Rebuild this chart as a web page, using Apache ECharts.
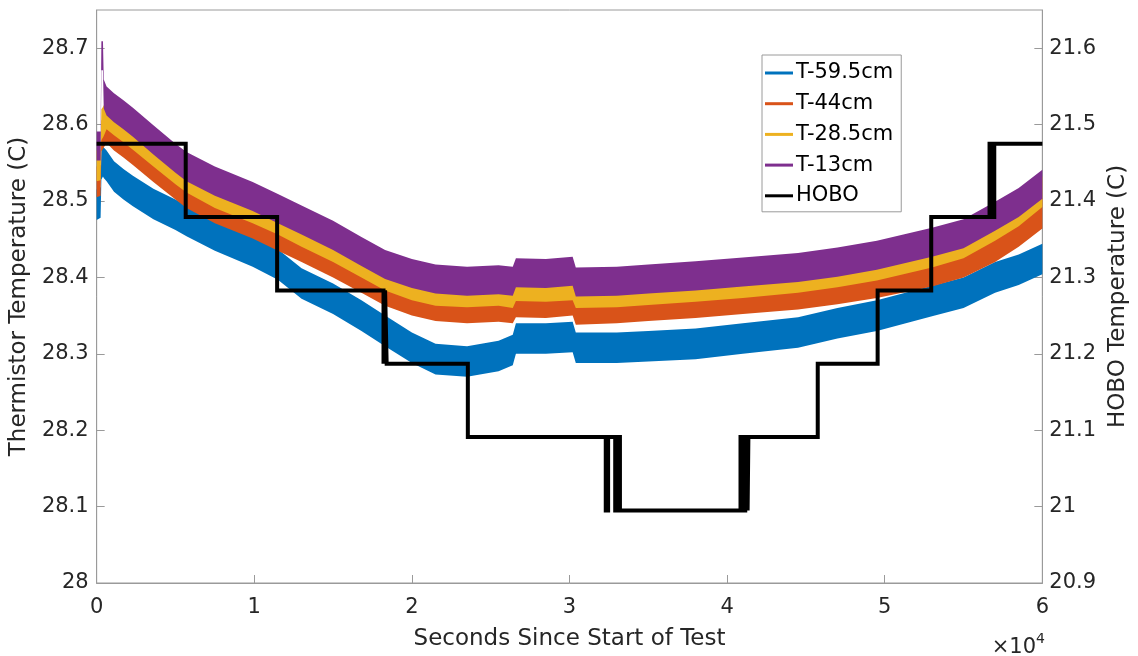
<!DOCTYPE html>
<html>
<head>
<meta charset="utf-8">
<script src="https://cdn.jsdelivr.net/npm/echarts@6/dist/echarts.min.js"></script>
<style>
  html, body { margin: 0; padding: 0; background: #fff; }
  #chart { width: 1138px; height: 656px; }
</style>
</head>
<body>
<div id="chart"></div>
<script>
// Sample times (s) for the thermistor traces
const times = [0, 250, 300, 400, 450, 630, 1100, 1700, 2300, 3600, 5000, 5700, 7500, 9900,
  11500, 13000, 15000, 16800, 18300, 20000, 21500, 23500, 25500, 26400, 26600, 28500,
  30200, 30400, 33000, 35000, 38000, 41000, 44500, 47000, 49500, 53000, 55000, 57000,
  58500, 60000];

// Thermistor band centres (C)
const t595 = [28.495, 28.498, 28.548, 28.552, 28.550, 28.546, 28.532, 28.522, 28.513, 28.496,
  28.482, 28.474, 28.455, 28.434, 28.417, 28.392, 28.372, 28.350, 28.330, 28.308, 28.293,
  28.290, 28.297, 28.305, 28.320, 28.320, 28.322, 28.308, 28.308, 28.310, 28.313, 28.320,
  28.328, 28.340, 28.350, 28.369, 28.380, 28.400, 28.410, 28.424];
const t44 = [28.525, 28.527, 28.585, 28.588, 28.590, 28.596, 28.586, 28.577, 28.567, 28.545,
  28.522, 28.511, 28.491, 28.471, 28.455, 28.440, 28.420, 28.400, 28.383, 28.370, 28.363,
  28.360, 28.362, 28.360, 28.368, 28.367, 28.370, 28.358, 28.360, 28.363, 28.367, 28.372,
  28.378, 28.385, 28.393, 28.408, 28.420, 28.440, 28.460, 28.484];
const t285 = [28.546, 28.547, 28.600, 28.603, 28.605, 28.614, 28.606, 28.597, 28.587, 28.565,
  28.542, 28.531, 28.511, 28.491, 28.476, 28.460, 28.440, 28.420, 28.403, 28.390, 28.383,
  28.381, 28.383, 28.380, 28.389, 28.388, 28.390, 28.380, 28.381, 28.384, 28.388, 28.393,
  28.400, 28.407, 28.416, 28.433, 28.445, 28.468, 28.487, 28.512];
const t13 = [28.572, 28.572, 28.690, 28.690, 28.640, 28.631, 28.622, 28.613, 28.603, 28.580,
  28.556, 28.545, 28.526, 28.506, 28.490, 28.475, 28.455, 28.434, 28.417, 28.405, 28.398,
  28.395, 28.397, 28.395, 28.406, 28.405, 28.408, 28.394, 28.395, 28.398, 28.402, 28.407,
  28.413, 28.420, 28.429, 28.446, 28.457, 28.480, 28.498, 28.522];

// Noise half-width of each thermistor trace (C)
const halfWidth = { 'T-59.5cm': 0.020, 'T-44cm': 0.020, 'T-28.5cm': 0.020, 'T-13cm': 0.019 };

// HOBO logger: time (s) at which each reading starts, and the reading (C)
const hoboTime = [0, 5650, 11450, 18200, 18300, 18400, 23550, 32300, 32450, 32900, 33050, 33200,
  40850, 41000, 41150, 41300, 41350, 45750, 49550, 52950, 56650, 56800, 56950, 60000];
const hoboVal = [21.475, 21.379, 21.283, 21.187, 21.283, 21.187, 21.091, 20.995, 21.091, 20.995,
  21.091, 20.995, 21.091, 20.995, 21.091, 20.995, 21.091, 21.187, 21.283, 21.379, 21.475,
  21.379, 21.475, 21.475];

const xTicks = ['0', '1', '2', '3', '4', '5', '6'];

const FONT = 'DejaVu Sans';
const TXT = '#262626';
const AX = '#9a9a9a';

function band(name, color, mid) {
  const hw = halfWidth[name];
  return {
    type: 'custom',
    name: name,
    yAxisIndex: 0,
    color: color,
    itemStyle: { color: color },
    clip: true,
    data: times.map((t, i) => [t, mid[i] - hw, mid[i] + hw]),
    encode: { x: 0, y: [1, 2] },
    renderItem: function (params, api) {
      if (params.dataIndex !== 0) return { type: 'group', children: [] };
      const top = [], bottom = [];
      for (let i = 0; i < times.length; i++) {
        top.push(api.coord([times[i], mid[i] + hw]));
        bottom.push(api.coord([times[i], mid[i] - hw]));
      }
      return {
        type: 'polygon',
        shape: { points: top.concat(bottom.reverse()) },
        style: { fill: color }
      };
    }
  };
}

const chart = echarts.init(document.getElementById('chart'), null, { renderer: 'canvas' });

const yLabel = v => String(Math.round(v * 10) / 10);

chart.setOption({
  animation: false,
  backgroundColor: '#fff',
  textStyle: { fontFamily: FONT },
  grid: { left: 93, right: 92, top: 10, bottom: 72, show: true, borderColor: AX, borderWidth: 1 },
  legend: {
    orient: 'vertical',
    left: 762, top: 55,
    padding: [7, 8, 5, 3],
    itemWidth: 28, itemHeight: 3, itemGap: 8.7,
    backgroundColor: '#fff',
    borderColor: AX, borderWidth: 1,
    textStyle: { fontFamily: FONT, fontSize: 21, color: '#000', lineHeight: 22, padding: [0, 0, 0, -2] },
    data: [
      { name: 'T-59.5cm', icon: 'rect' },
      { name: 'T-44cm', icon: 'rect' },
      { name: 'T-28.5cm', icon: 'rect' },
      { name: 'T-13cm', icon: 'rect' },
      { name: 'HOBO', icon: 'rect' }
    ]
  },
  xAxis: {
    type: 'value', min: 0, max: 60000, interval: 10000,
    name: 'Seconds Since Start of Test', nameLocation: 'middle', nameGap: 45,
    nameTextStyle: { fontFamily: FONT, fontSize: 23, color: TXT },
    axisLine: { lineStyle: { color: AX } },
    axisTick: { inside: true, length: 8, lineStyle: { color: AX } },
    axisLabel: { fontFamily: FONT, fontSize: 21, color: TXT, margin: 14,
      formatter: v => xTicks[Math.round(v / 10000)] },
    splitLine: { show: false }
  },
  yAxis: [
    {
      type: 'value', min: 28, max: 28.75, interval: 0.1, position: 'left',
      name: 'Thermistor Temperature (C)', nameLocation: 'middle', nameGap: 54,
      nameTextStyle: { fontFamily: FONT, fontSize: 23, color: TXT },
      axisLine: { show: true, lineStyle: { color: AX } },
      axisTick: { show: true, inside: true, length: 8, lineStyle: { color: AX } },
      axisLabel: { fontFamily: FONT, fontSize: 21, color: TXT, margin: 8, showMaxLabel: false, formatter: yLabel },
      splitLine: { show: false }
    },
    {
      type: 'value', min: 20.9, max: 21.65, interval: 0.1, position: 'right',
      name: 'HOBO Temperature (C)', nameLocation: 'middle', nameGap: 62,
      nameTextStyle: { fontFamily: FONT, fontSize: 23, color: TXT },
      axisLine: { show: true, lineStyle: { color: AX } },
      axisTick: { show: true, inside: true, length: 8, lineStyle: { color: AX } },
      axisLabel: { fontFamily: FONT, fontSize: 21, color: TXT, margin: 7, showMaxLabel: false, formatter: yLabel },
      splitLine: { show: false }
    }
  ],
  graphic: [{
    type: 'text',
    right: 93, top: 632,
    style: {
      text: '{a|×10}{s|4}',
      fill: TXT,
      rich: {
        a: { fontFamily: FONT, fontSize: 21, fill: TXT, lineHeight: 26, verticalAlign: 'bottom' },
        s: { fontFamily: FONT, fontSize: 14, fill: TXT, lineHeight: 26, verticalAlign: 'top' }
      }
    }
  }],
  series: [
    band('T-59.5cm', '#0072BD', t595),
    band('T-44cm', '#D95319', t44),
    band('T-28.5cm', '#EDB120', t285),
    band('T-13cm', '#7E2F8E', t13),
    {
      type: 'line', name: 'HOBO', yAxisIndex: 1, step: 'end',
      color: '#000',
      symbol: 'none',
      lineStyle: { color: '#000', width: 4, join: 'miter' },
      data: hoboTime.map((t, i) => [t, hoboVal[i]]),
      z: 5
    }
  ]
});
</script>
</body>
</html>
